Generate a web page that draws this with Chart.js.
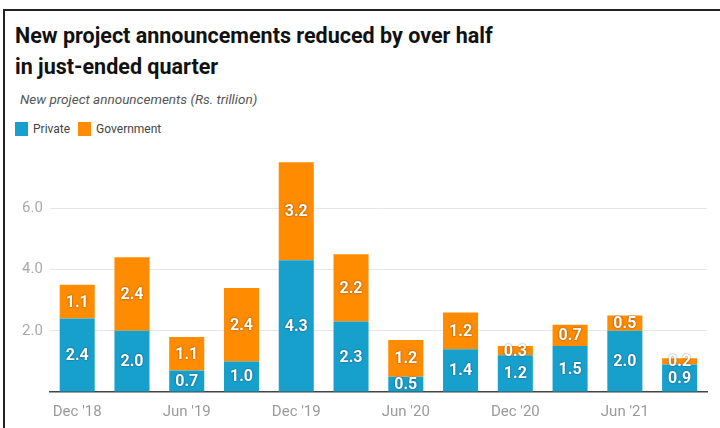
<!DOCTYPE html>
<html>
<head>
<meta charset="utf-8">
<script src="https://cdn.jsdelivr.net/npm/chart.js@4.4.1/dist/chart.umd.min.js"></script>
<style>
  html, body { margin: 0; padding: 0; background: #fff; }
  body { width: 720px; height: 428px; position: relative; overflow: hidden; font-family: Roboto, "Noto Sans", sans-serif; }
  .frame { position: absolute; left: 3px; top: 9px; width: 730px; height: 430px; border-top: 2px solid #222; border-left: 2px solid #222; }
  h1 { position: absolute; left: 15px; top: 20px; margin: 0; font-size: 21.5px; line-height: 31px; font-weight: 700; color: #111; }
  .sub { position: absolute; left: 20px; top: 91px; font-size: 13.5px; font-style: italic; color: #555; }
  .legend { position: absolute; left: 15px; top: 122px; font-size: 12px; color: #444; display: flex; align-items: center; }
  .legend span.sw { display: inline-block; width: 13px; height: 14px; margin-right: 5px; }
  .legend span.lb { margin-right: 8px; }
  #wrap { position: absolute; left: 0; top: 131px; width: 720px; height: 297px; }
</style>
</head>
<body>
<div class="frame"></div>
<h1>New project announcements reduced by over half<br>in just-ended quarter</h1>
<div class="sub">New project announcements (Rs. trillion)</div>
<div class="legend">
  <span class="sw" style="background:#18a0cd"></span><span class="lb">Private</span>
  <span class="sw" style="background:#ff8b00"></span><span class="lb">Government</span>
</div>
<div id="wrap"><canvas id="c"></canvas></div>
<script>
// Quarterly new project announcements, Rs. trillion
const quarters = ["Dec '18", "Mar '19", "Jun '19", "Sep '19", "Dec '19", "Mar '20",
                  "Jun '20", "Sep '20", "Dec '20", "Mar '21", "Jun '21", "Sep '21"];
const privateVals    = [2.4, 2.0, 0.7, 1.0, 4.3, 2.3, 0.5, 1.4, 1.2, 1.5, 2.0, 0.9];
const governmentVals = [1.1, 2.4, 1.1, 2.4, 3.2, 2.2, 1.2, 1.2, 0.3, 0.7, 0.5, 0.2];
const yTicks = [0, 2, 4, 6, 8];

// Writes each segment's value in the middle of its bar
const segmentLabels = {
  id: 'segmentLabels',
  afterDatasetsDraw(chart) {
    const ctx = chart.ctx;
    ctx.save();
    ctx.font = 'bold 16px Roboto, sans-serif';
    ctx.textAlign = 'center';
    ctx.textBaseline = 'middle';
    ctx.fillStyle = '#fff';
    ctx.shadowColor = 'rgba(0,0,0,0.55)';
    ctx.shadowBlur = 2;
    chart.data.datasets.forEach((ds, di) => {
      chart.getDatasetMeta(di).data.forEach((bar, i) => {
        const v = ds.data[i];
        const y = (bar.y + bar.base) / 2;
        ctx.fillText(v.toFixed(1), bar.x, y + 1);
      });
    });
    ctx.restore();
  }
};

new Chart(document.getElementById('c'), {
  type: 'bar',
  data: {
    labels: quarters,
    datasets: [
      { label: 'Private', data: privateVals, backgroundColor: '#18a0cd', borderWidth: 0 },
      { label: 'Government', data: governmentVals, backgroundColor: '#ff8b00', borderWidth: 0 }
    ]
  },
  options: {
    responsive: true,
    maintainAspectRatio: false,
    animation: false,
    layout: { padding: { left: 15, right: 13, top: 7, bottom: 4 } },
    datasets: { bar: { categoryPercentage: 1.0, barPercentage: 0.64 } },
    plugins: { legend: { display: false }, tooltip: { enabled: false } },
    scales: {
      x: {
        stacked: true,
        grid: { display: false },
        border: { color: '#444', width: 1.5 },
        ticks: {
          autoSkip: false, maxRotation: 0, color: '#9a9a9a',
          font: { family: 'Roboto', size: 15 },
          callback: (v, i) => (i % 2 === 0 ? quarters[i] : '')
        }
      },
      y: {
        stacked: true,
        min: 0, max: 8,
        afterBuildTicks: (s) => { s.ticks = yTicks.map(v => ({ value: v })); },
        border: { display: false },
        grid: {
          color: (c) => (c.tick && (c.tick.value === 0 || c.tick.value === 8) ? 'rgba(0,0,0,0)' : '#e6e6e6'),
          drawTicks: false
        },
        ticks: {
          color: '#aaa', padding: 7,
          font: { family: 'Roboto', size: 15 },
          callback: (v) => (v === 0 || v === 8 ? '' : v.toFixed(1))
        }
      }
    }
  },
  plugins: [segmentLabels]
});
</script>
</body>
</html>
